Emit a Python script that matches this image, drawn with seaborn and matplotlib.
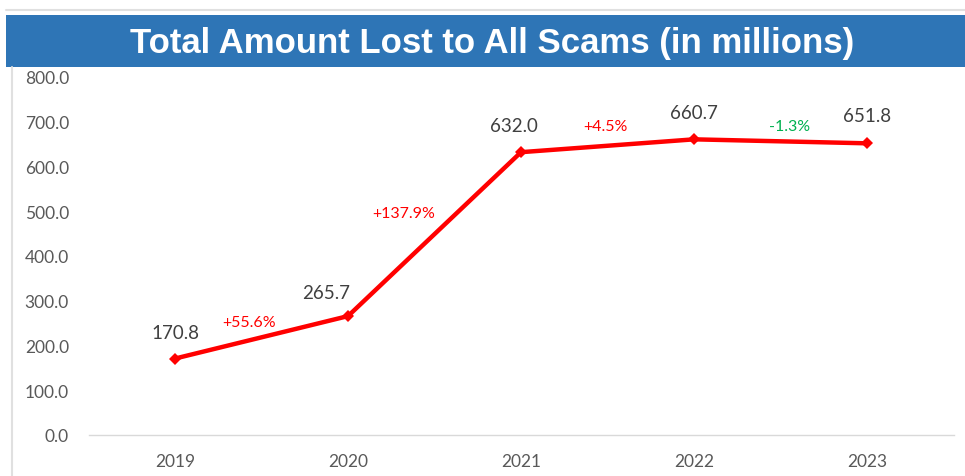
import numpy as np
import pandas as pd
import matplotlib.pyplot as plt
import seaborn as sns
from matplotlib.patches import Rectangle
from matplotlib.lines import Line2D

sns.set_style('white')
plt.rcParams['font.family'] = ['Lato', 'DejaVu Sans']

years = ['2019', '2020', '2021', '2022', '2023']
amounts = [170.8, 265.7, 632.0, 660.7, 651.8]
changes = ['+55.6%', '+137.9%', '+4.5%', '-1.3%']
change_colors = ['#FF0000', '#FF0000', '#FF0000', '#00B050']
yticks = np.arange(0, 801, 100)

df = pd.DataFrame({'year': years, 'amount': amounts})

fig = plt.figure(figsize=(9.65, 4.77), dpi=100)
ax = fig.add_axes([88.5/965, 1-436/477, 865/965, 358/477])

sns.lineplot(data=df, x='year', y='amount', ax=ax, color='#FF0000', lw=3.2,
             marker='D', markersize=6, markeredgewidth=0, sort=False)

ax.set_xlim(-0.5, 4.5)
ax.set_ylim(0, 800)
ax.set_yticks(yticks)
ax.set_yticklabels(['{:.1f}'.format(v) for v in yticks])
ax.set_xlabel('')
ax.set_ylabel('')
for s in ['top', 'right', 'left']:
    ax.spines[s].set_visible(False)
ax.spines['bottom'].set_color('#D9D9D9')
ax.spines['bottom'].set_linewidth(1)
ax.tick_params(axis='both', length=0, colors='#595959', labelsize=12.5)
ax.tick_params(axis='y', pad=14)
ax.tick_params(axis='x', pad=13)

# value labels (offsets in points)
val_off = [(0, 19), (-16, 17), (-5, 19), (0, 19), (0, 20)]
for i, v in enumerate(amounts):
    ax.annotate('{:.1f}'.format(v), (i, v), xytext=val_off[i], textcoords='offset points',
                ha='center', va='center', fontsize=13.5, color='#404040')

# growth labels
chg_pos = [(0.43, 252), (1.32, 496), (2.49, 690), (3.55, 690)]
for (x, y), t, c in zip(chg_pos, changes, change_colors):
    ax.text(x, y, t, ha='center', va='center', fontsize=11.5, color=c)

# title banner and frame
fig.add_artist(Rectangle((6/965, 1-68/477), 959/965, 52/477, transform=fig.transFigure,
                         facecolor='#2E75B6', edgecolor='none'))
fig.add_artist(Line2D([6/965, 1], [1-11/477, 1-11/477], transform=fig.transFigure,
                      color='#E0E0E0', lw=1.5))
fig.add_artist(Line2D([12/965, 12/965], [0, 1-68/477], transform=fig.transFigure,
                      color='#E0E0E0', lw=1.5))
fig.text(492/965, 1-43/477, 'Total Amount Lost to All Scams (in millions)', ha='center', va='center',
         fontsize=25, fontweight='bold', color='white', family=['Liberation Sans', 'DejaVu Sans'])

plt.savefig('out.png', dpi=100)
